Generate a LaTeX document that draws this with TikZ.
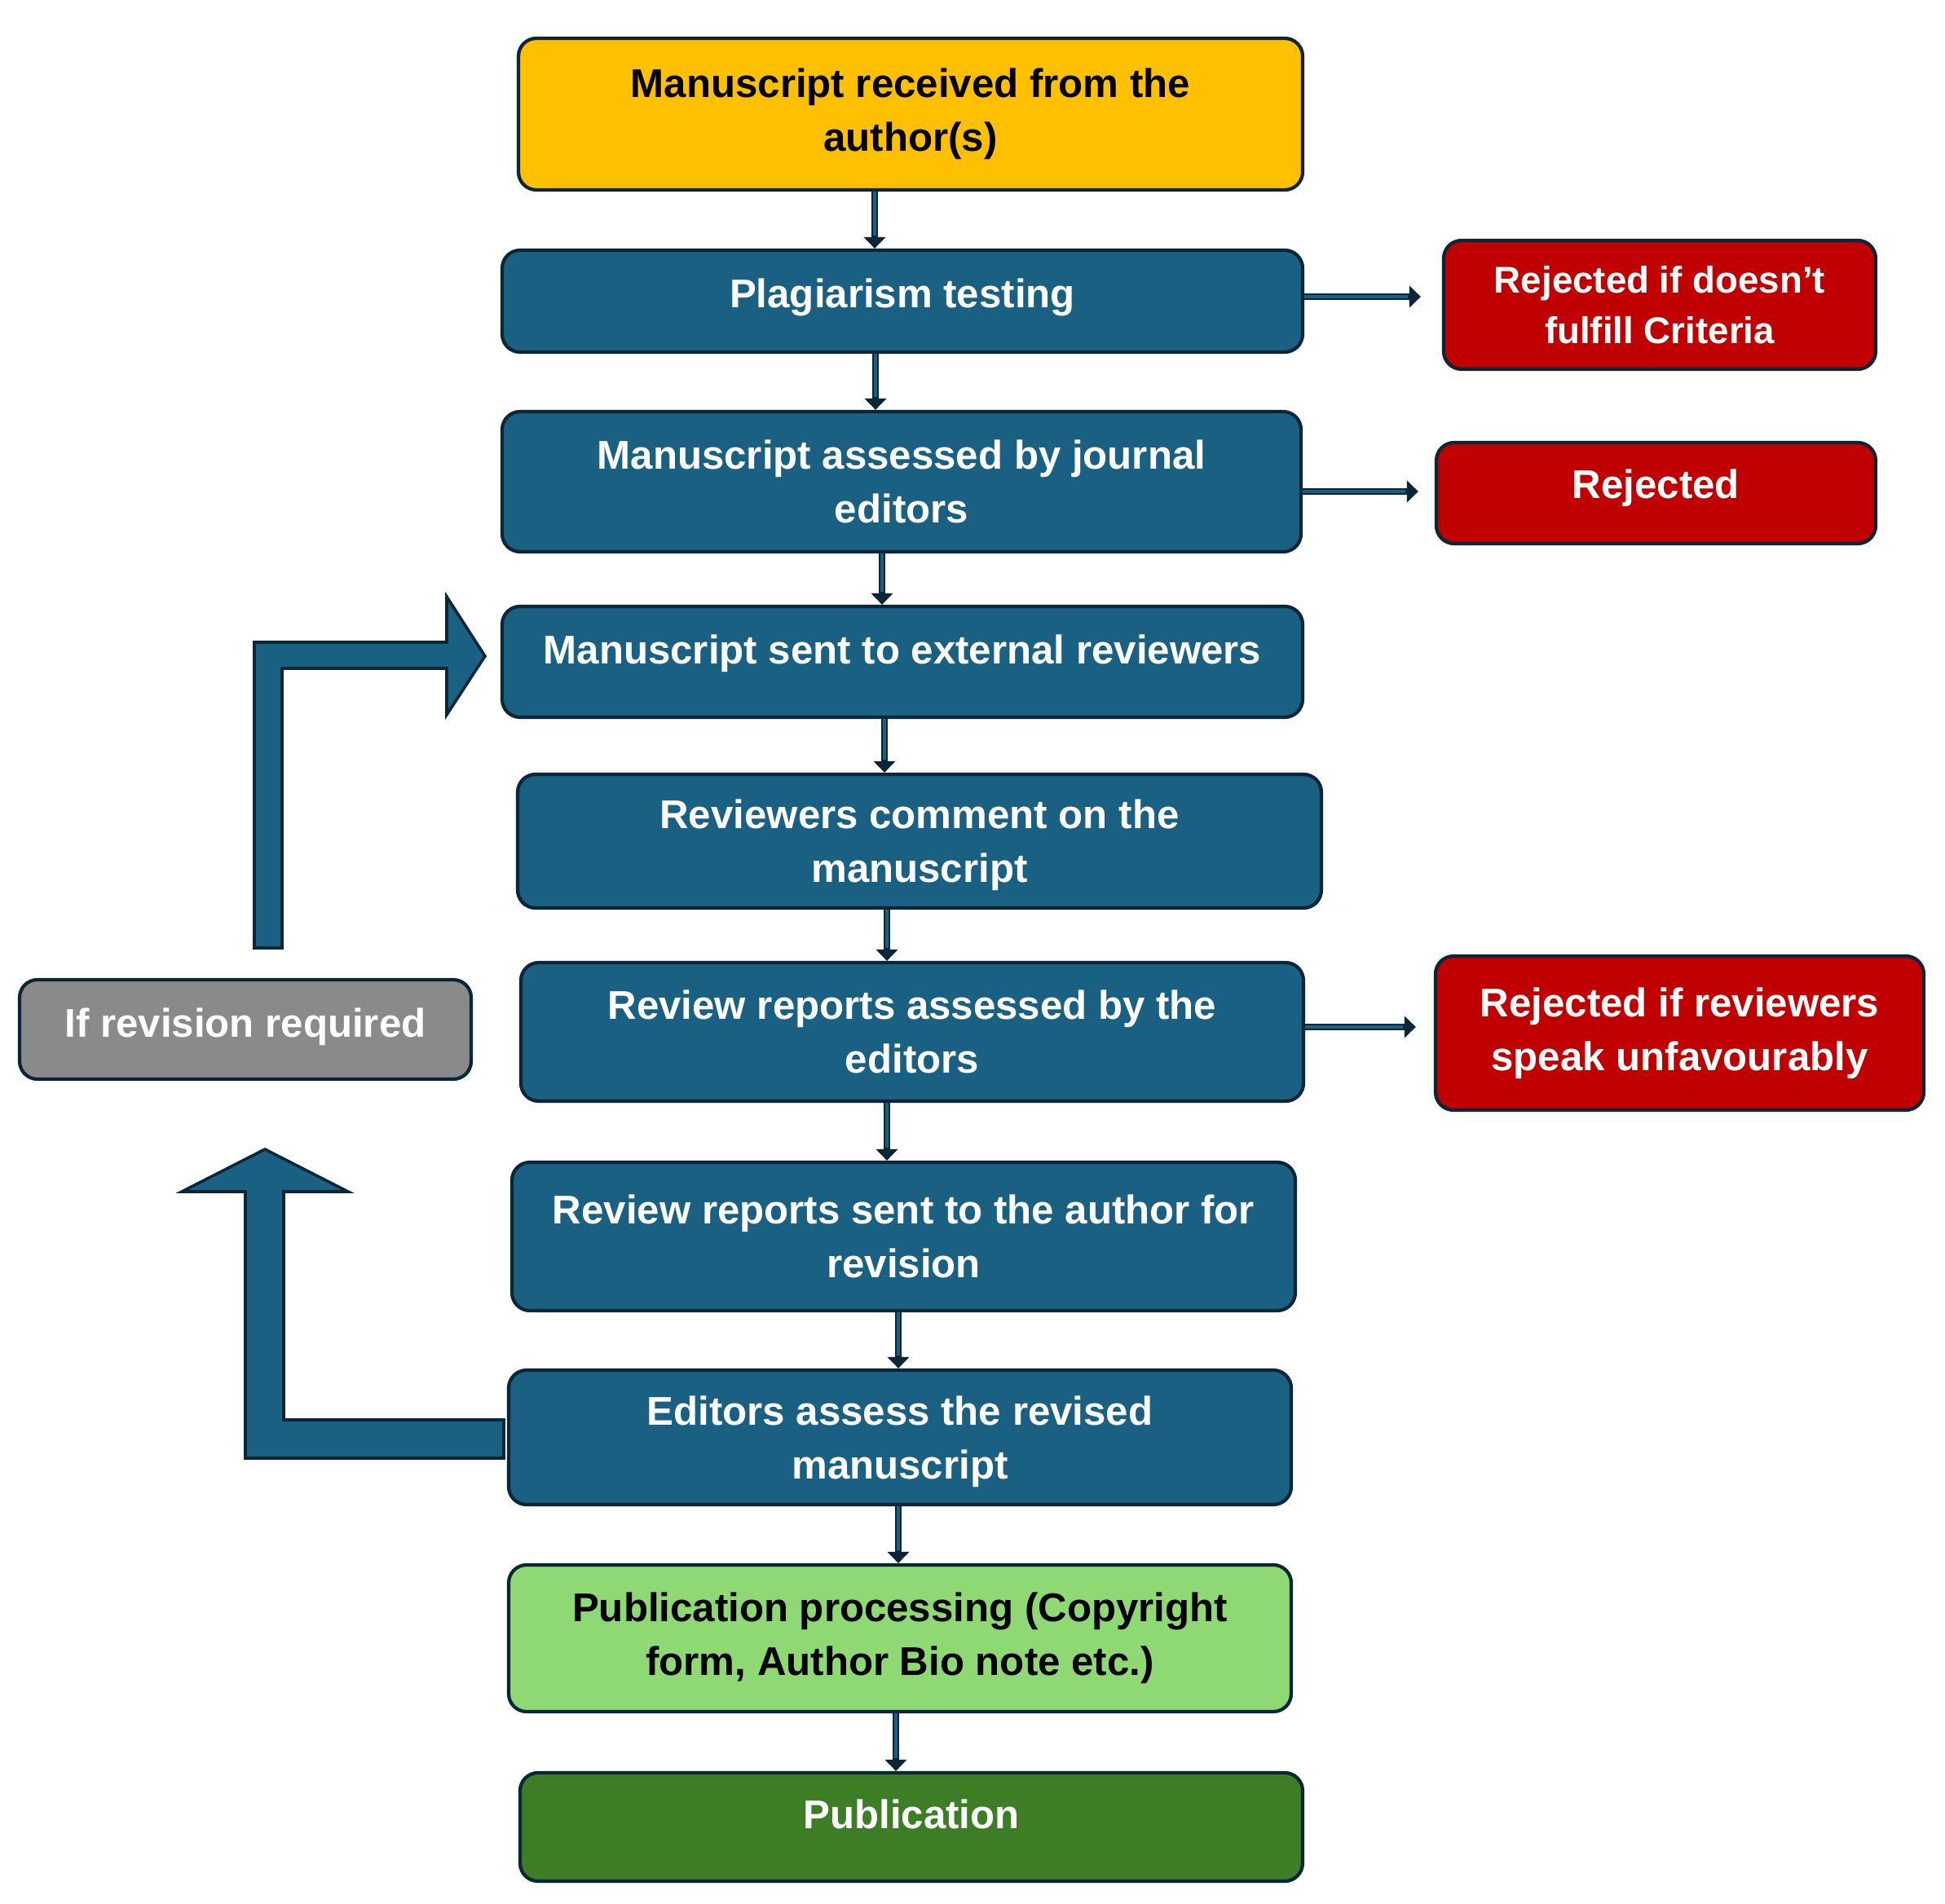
\documentclass[tikz,border=0pt]{standalone}
\usepackage{fontspec}
\setmainfont{Liberation Sans}
\usetikzlibrary{arrows.meta,calc}

\definecolor{boxblue}{HTML}{196082}
\definecolor{dkline}{HTML}{0B2637}
\definecolor{gold}{HTML}{FFC000}
\definecolor{rejred}{HTML}{C00000}
\definecolor{revgrey}{HTML}{8A8A8A}
\definecolor{litegreen}{HTML}{8FD975}
\definecolor{darkgreen}{HTML}{3C7D25}

\begin{document}
\begin{tikzpicture}[
  font=\fontsize{14}{18.8}\selectfont\bfseries,
  stage/.style={
    rectangle, rounded corners=2.2mm,
    draw=dkline, line width=1.2pt,
    fill=boxblue, text=white, align=center,
    inner sep=2pt
  },
  start/.style={stage, fill=gold, text=black},
  reject/.style={stage, fill=rejred},
  revise/.style={stage, fill=revgrey},
  prepub/.style={stage, fill=litegreen, text=black},
  final/.style={stage, fill=darkgreen},
  flow/.style={
    draw=dkline, line width=2.4pt,
    -{Triangle[length=4pt,width=7.5pt]},
    postaction={draw=boxblue, line width=0.9pt, -, shorten >=4.6pt}
  },
  bigarrow/.style={fill=boxblue, draw=dkline, line width=1pt, line join=miter}
]
\useasboundingbox (0,0) rectangle (23.86,-23.36);

%% ── Main column ─────────────────────────────────────────────────────
\node[start, minimum width=9.62cm, minimum height=1.86cm] (recv) at (11.17,-1.40)
  {Manuscript received from the\\author(s)};
\node[stage, minimum width=9.82cm, minimum height=1.25cm, text depth=5.5pt] (plag) at (11.07,-3.695)
  {Plagiarism testing};
\node[stage, minimum width=9.80cm, minimum height=1.72cm] (assess) at (11.06,-5.91)
  {Manuscript assessed by journal\\editors};
\node[stage, minimum width=9.82cm, minimum height=1.36cm, text depth=8.9pt] (sent) at (11.07,-8.12)
  {Manuscript sent to external reviewers};
\node[stage, minimum width=9.86cm, minimum height=1.64cm, text depth=-4.9pt] (comm) at (11.28,-10.32)
  {Reviewers comment on the\\manuscript};
\node[stage, minimum width=9.60cm, minimum height=1.70cm] (repass) at (11.19,-12.66)
  {Review reports assessed by the\\editors};
\node[stage, minimum width=9.61cm, minimum height=1.82cm] (repsent) at (11.085,-15.17)
  {Review reports sent to the author for\\revision};
\node[stage, minimum width=9.60cm, minimum height=1.65cm, text depth=-4.9pt] (edass) at (11.04,-17.635)
  {Editors assess the revised\\manuscript};
\node[prepub, minimum width=9.60cm, minimum height=1.80cm] (pubproc) at (11.04,-20.10)
  {Publication processing (Copyright\\form, Author Bio note etc.)};
\node[final, minimum width=9.60cm, minimum height=1.33cm, text depth=8.8pt] (pub) at (11.18,-22.415)
  {Publication};

%% ── Side boxes ──────────────────────────────────────────────────────
\node[reject, minimum width=5.30cm, minimum height=1.58cm, text depth=-2.2pt,
      font=\fontsize{13}{17.8}\selectfont\bfseries] (rej1) at (20.36,-3.74)
  {Rejected if doesn’t\\fulfill Criteria};
\node[reject, minimum width=5.39cm, minimum height=1.24cm, text depth=6.3pt] (rej2) at (20.315,-6.05)
  {Rejected};
\node[reject, minimum width=5.99cm, minimum height=1.89cm] (rej3) at (20.605,-12.675)
  {Rejected if reviewers\\speak unfavourably};
\node[revise, minimum width=5.54cm, minimum height=1.22cm, text depth=4.6pt] (revreq) at (3.01,-12.63)
  {If revision required};

%% ── Downward flow ───────────────────────────────────────────────────
\coordinate (v1) at ([xshift=-4.4mm]recv.south);
\coordinate (v2) at ([xshift=-3.3mm]plag.south);
\coordinate (v3) at ([xshift=-2.4mm]assess.south);
\coordinate (v4) at ([xshift=-2.2mm]sent.south);
\coordinate (v5) at ([xshift=-4.0mm]comm.south);
\coordinate (v6) at ([xshift=-3.1mm]repass.south);
\coordinate (v7) at ([xshift=-0.65mm]repsent.south);
\coordinate (v8) at ([xshift=-0.2mm]edass.south);
\coordinate (v9) at ([xshift=-0.5mm]pubproc.south);
\draw[flow] (v1) -- (v1 |- plag.north);
\draw[flow] (v2) -- (v2 |- assess.north);
\draw[flow] (v3) -- (v3 |- sent.north);
\draw[flow] (v4) -- (v4 |- comm.north);
\draw[flow] (v5) -- (v5 |- repass.north);
\draw[flow] (v6) -- (v6 |- repsent.north);
\draw[flow] (v7) -- (v7 |- edass.north);
\draw[flow] (v8) -- (v8 |- pubproc.north);
\draw[flow] (v9) -- (v9 |- pub.north);

%% ── Rejection arrows ────────────────────────────────────────────────
\coordinate (h1) at ([yshift=0.55mm]plag.east);
\coordinate (h2) at ([yshift=-1.2mm]assess.east);
\coordinate (h3) at ([yshift=0.6mm]repass.east);
\path (h1 -| rej1.west) ++(-0.26,0) coordinate (h1e);
\path (h2 -| rej2.west) ++(-0.20,0) coordinate (h2e);
\path (h3 -| rej3.west) ++(-0.22,0) coordinate (h3e);
\draw[flow] (h1) -- (h1e);
\draw[flow] (h2) -- (h2e);
\draw[flow] (h3) -- (h3e);

%% ── Revision loop (block arrows) ────────────────────────────────────
\draw[bigarrow] (3.12,-11.63) -- (3.12,-7.88) -- (5.48,-7.88) -- (5.48,-7.32)
  -- (5.95,-8.05) -- (5.48,-8.77) -- (5.48,-8.20) -- (3.46,-8.20)
  -- (3.46,-11.63) -- cycle;
\draw[bigarrow] (6.18,-17.42) -- (3.48,-17.42) -- (3.48,-14.62) -- (4.27,-14.62)
  -- (3.25,-14.10) -- (2.23,-14.62) -- (3.01,-14.62) -- (3.01,-17.89)
  -- (6.18,-17.89) -- cycle;

\end{tikzpicture}
\end{document}
